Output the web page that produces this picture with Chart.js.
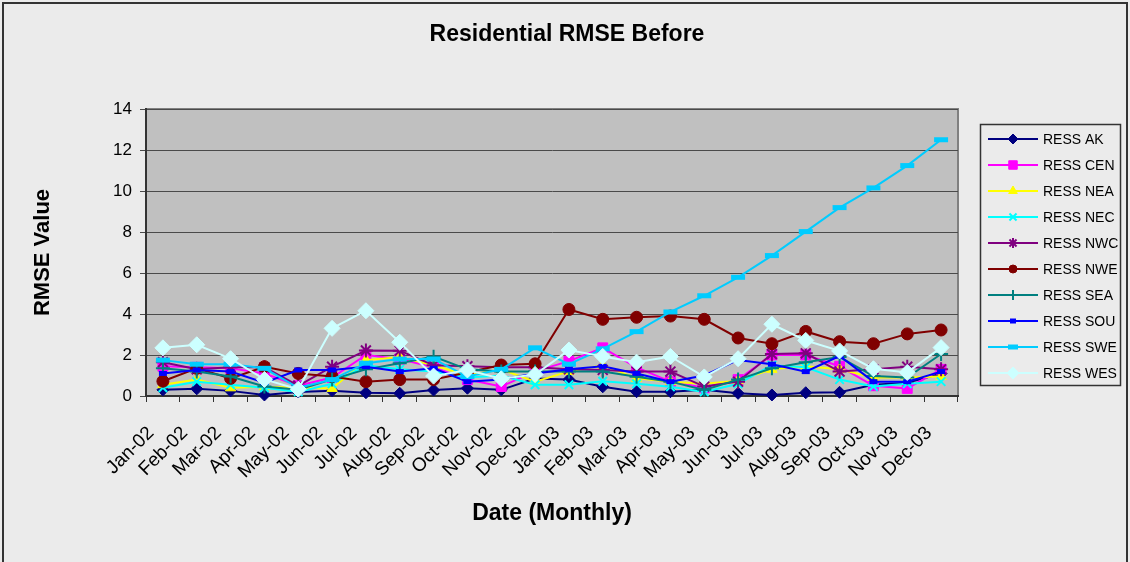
<!DOCTYPE html>
<html>
<head>
<meta charset="utf-8">
<script src="https://cdn.jsdelivr.net/npm/chart.js@4.4.1/dist/chart.umd.min.js"></script>
<style>
  body { margin: 0; background: #ebebeb; }
  canvas { display: block; }
</style>
</head>
<body>
<canvas id="rmseChart" width="1130" height="562"></canvas>
<script>
// months on the x axis
const months = ['Jan-02', 'Feb-02', 'Mar-02', 'Apr-02', 'May-02', 'Jun-02', 'Jul-02', 'Aug-02',
  'Sep-02', 'Oct-02', 'Nov-02', 'Dec-02', 'Jan-03', 'Feb-03', 'Mar-03', 'Apr-03', 'May-03',
  'Jun-03', 'Jul-03', 'Aug-03', 'Sep-03', 'Oct-03', 'Nov-03', 'Dec-03'];

const yTicks = [0, 2, 4, 6, 8, 10, 12, 14];

// RMSE values per region
const ressAK  = [0.30, 0.35, 0.25, 0.05, 0.20, 0.26, 0.16, 0.13, 0.29, 0.38, 0.30, 0.85, 0.80, 0.45, 0.21, 0.21, 0.30, 0.13, 0.05, 0.16, 0.18, 0.55, 0.65, 1.10];
const ressCEN = [1.45, 1.40, 1.35, 1.10, 0.50, 0.90, 2.00, 1.80, 1.40, 0.80, 0.46, 1.20, 1.70, 2.35, 1.40, 0.70, 0.40, 0.80, 2.00, 2.00, 1.45, 0.50, 0.37, 1.30];
const ressNEA = [0.55, 0.80, 0.40, 0.45, 0.40, 0.37, 1.75, 1.90, 1.50, 1.00, 1.30, 0.70, 1.20, 1.50, 0.86, 0.70, 0.60, 0.75, 1.30, 1.45, 1.30, 0.90, 0.90, 0.95];
const ressNEC = [0.40, 0.70, 0.55, 0.40, 0.20, 0.60, 1.50, 1.30, 1.20, 0.90, 1.00, 0.55, 0.55, 0.72, 0.60, 0.45, 0.20, 0.60, 1.50, 1.40, 0.80, 0.46, 0.60, 0.70];
const ressNWC = [1.65, 1.30, 1.40, 1.40, 0.50, 1.43, 2.22, 2.21, 1.50, 1.45, 1.40, 1.40, 1.30, 1.27, 1.19, 1.19, 0.46, 0.70, 2.05, 2.08, 1.19, 1.30, 1.43, 1.30];
const ressNWE = [0.72, 1.35, 0.86, 1.43, 1.10, 0.95, 0.70, 0.80, 0.80, 1.15, 1.51, 1.57, 4.22, 3.74, 3.84, 3.90, 3.74, 2.83, 2.55, 3.15, 2.65, 2.55, 3.03, 3.22];
const ressSEA = [1.35, 1.20, 0.95, 0.46, 0.30, 0.81, 1.30, 1.60, 1.92, 1.30, 1.20, 1.20, 1.20, 1.20, 0.94, 0.70, 0.30, 0.80, 1.35, 1.65, 1.90, 0.97, 0.90, 2.05];
const ressSOU = [1.10, 1.27, 1.19, 0.65, 1.27, 1.27, 1.43, 1.19, 1.35, 0.70, 0.80, 1.10, 1.30, 1.45, 1.10, 0.70, 1.00, 1.76, 1.55, 1.19, 1.95, 0.70, 0.70, 1.19];
const ressSWE = [1.75, 1.55, 1.55, 1.35, 0.40, 0.80, 1.60, 1.80, 1.80, 0.95, 1.30, 2.35, 1.55, 2.30, 3.14, 4.10, 4.89, 5.79, 6.85, 8.02, 9.19, 10.15, 11.24, 12.50];
const ressWES = [2.35, 2.50, 1.82, 0.81, 0.33, 3.30, 4.16, 2.62, 0.97, 1.27, 0.84, 1.05, 2.24, 1.93, 1.65, 1.93, 0.93, 1.82, 3.50, 2.71, 2.20, 1.33, 1.15, 2.36];

const seriesNames = ['RESS AK', 'RESS CEN', 'RESS NEA', 'RESS NEC', 'RESS NWC',
  'RESS NWE', 'RESS SEA', 'RESS SOU', 'RESS SWE', 'RESS WES'];
const seriesData = [ressAK, ressCEN, ressNEA, ressNEC, ressNWC, ressNWE, ressSEA, ressSOU, ressSWE, ressWES];

const chartTitle = 'Residential RMSE Before';

// excel-ish line + marker looks
const looks = [
  { color: '#000080', style: 'rectRot',  r: 6, lr: 5, bw: 1 },
  { color: '#ff00ff', style: 'rect',     r: 7, lr: 6, bw: 1 },
  { color: '#ffff00', style: 'triangle', r: 6, lr: 5, bw: 1 },
  { color: '#00ffff', style: 'crossRot', r: 6, lr: 5, bw: 2 },
  { color: '#800080', style: 'star',     r: 7, lr: 5, bw: 2 },
  { color: '#800000', style: 'circle',   r: 6, lr: 4, bw: 1 },
  { color: '#008080', style: 'cross',    r: 7, lr: 5, bw: 2 },
  { color: '#0000ff', style: 'line',     r: 4, lr: 3, bw: 5 },
  { color: '#00ccff', style: 'line',     r: 7, lr: 5, bw: 5 },
  { color: '#ccffff', style: 'rectRot',  r: 8, lr: 6, bw: 1 }
];

const FONT = 'Liberation Sans, Arial, sans-serif';

// grey plot area + outer frame + centred title
const plotFrame = {
  id: 'plotFrame',
  beforeDraw(chart) {
    const { ctx, chartArea: a } = chart;
    ctx.save();
    ctx.fillStyle = '#ebebeb';
    ctx.fillRect(0, 0, chart.width, chart.height);
    ctx.strokeStyle = '#333';
    ctx.lineWidth = 2;
    ctx.strokeRect(3, 3, chart.width - 6, chart.height + 20);
    ctx.fillStyle = '#c0c0c0';
    ctx.fillRect(a.left, a.top, a.right - a.left, a.bottom - a.top);
    ctx.strokeStyle = '#808080';
    ctx.strokeRect(a.left, a.top, a.right - a.left, a.bottom - a.top);
    ctx.fillStyle = '#000';
    ctx.font = 'bold 23px ' + FONT;
    ctx.textAlign = 'center';
    ctx.textBaseline = 'middle';
    ctx.fillText(chartTitle, 567, 35);
    ctx.restore();
  }
};

// boxed legend on the right, line with marker like excel
const legendBox = {
  id: 'legendBox',
  afterDraw(chart) {
    const ctx = chart.ctx;
    ctx.save();
    ctx.strokeStyle = '#333';
    ctx.lineWidth = 1.5;
    ctx.strokeRect(980.5, 124.5, 140, 261);
    ctx.font = '14px ' + FONT;
    ctx.textBaseline = 'middle';
    chart.data.datasets.forEach((ds, i) => {
      const y = 139 + i * 26;
      const lk = looks[i];
      ctx.strokeStyle = ds.borderColor;
      ctx.lineWidth = 2;
      ctx.beginPath();
      ctx.moveTo(988, y);
      ctx.lineTo(1038, y);
      ctx.stroke();
      ctx.fillStyle = lk.color;
      ctx.strokeStyle = lk.color;
      ctx.lineWidth = lk.bw;
      Chart.helpers.drawPoint(ctx, { pointStyle: lk.style, radius: lk.lr, rotation: 0, borderWidth: lk.bw }, 1013, y);
      ctx.fillStyle = '#000';
      ctx.fillText(ds.label, 1043, y + 1);
    });
    ctx.restore();
  }
};

const datasets = seriesNames.map((name, i) => ({
  label: name,
  data: seriesData[i],
  borderColor: looks[i].color,
  backgroundColor: looks[i].color,
  borderWidth: 2,
  pointStyle: looks[i].style,
  pointRadius: looks[i].r,
  pointBorderWidth: looks[i].bw,
  pointBackgroundColor: looks[i].color,
  pointBorderColor: looks[i].color,
  tension: 0,
  clip: false,
  order: seriesNames.length - i
}));

new Chart(document.getElementById('rmseChart'), {
  type: 'line',
  data: { labels: months, datasets: datasets },
  options: {
    responsive: false,
    animation: false,
    events: [],
    layout: { padding: { left: 30, right: 172, top: 109, bottom: 35 } },
    plugins: {
      legend: { display: false },
      tooltip: { enabled: false },
      title: { display: false }
    },
    scales: {
      x: {
        offset: true,
        grid: { offset: true, drawOnChartArea: false, color: '#333', tickLength: 6 },
        border: { color: '#333', width: 2 },
        ticks: { autoSkip: false, minRotation: 45, maxRotation: 45, color: '#000',
          font: { family: FONT, size: 19 }, padding: 20, labelOffset: -12 },
        title: { display: true, text: 'Date (Monthly)', color: '#000',
          font: { family: FONT, size: 23, weight: 'bold' }, padding: { top: 0, bottom: 0 } },
        afterFit(s) { s.height = 131; }
      },
      y: {
        min: 0,
        max: 14,
        afterBuildTicks(s) { s.ticks = yTicks.map(v => ({ value: v })); },
        grid: { color: '#4a4a4a', lineWidth: 1, tickLength: 6 },
        border: { color: '#333', width: 2 },
        ticks: { color: '#000', font: { family: FONT, size: 17 }, padding: 8 },
        title: { display: true, text: 'RMSE Value', color: '#000',
          font: { family: FONT, size: 22, weight: 'bold' }, padding: { top: 0, bottom: 0 } },
        afterFit(s) { s.width = 116; }
      }
    }
  },
  plugins: [plotFrame, legendBox]
});
</script>
</body>
</html>
